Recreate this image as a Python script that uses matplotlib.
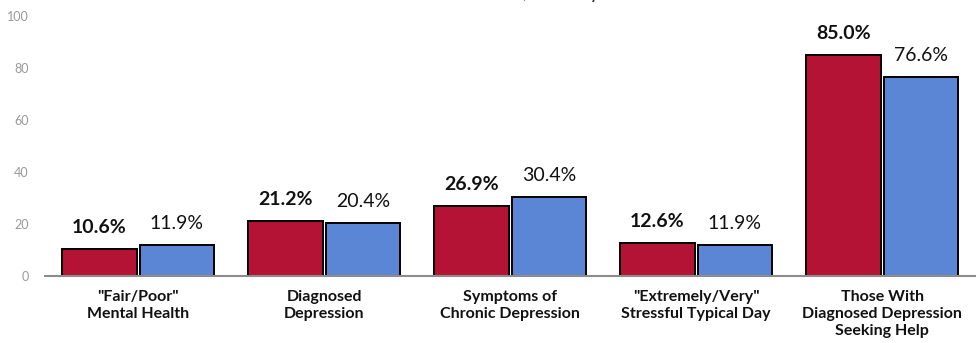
import matplotlib.pyplot as plt
import numpy as np

# Indicator values, county (red) vs state (blue)
categories = ['"Fair/Poor"\nMental Health', 'Diagnosed\nDepression', 'Symptoms of\nChronic Depression',
              '"Extremely/Very"\nStressful Typical Day', 'Those With\nDiagnosed Depression\nSeeking Help']
county = [10.6, 21.2, 26.9, 12.6, 85.0]
state = [11.9, 20.4, 30.4, 11.9, 76.6]
yticks = [0, 20, 40, 60, 80, 100]

plt.rcParams['font.family'] = ['Lato', 'DejaVu Sans']

fig = plt.figure(figsize=(9.8, 3.43), dpi=100)
ax = fig.add_axes([0.046, 0.195, 0.949, 0.758])

x = np.arange(len(categories))
w = 0.40
gap = 0.008
red_bars = ax.bar(x - w / 2 - gap, county, w, color='#B51336', edgecolor='black', linewidth=1.4)
blue_bars = ax.bar(x + w / 2 + gap, state, w, color='#5B86D5', edgecolor='black', linewidth=1.4)

for b, v in zip(red_bars, county):
    ax.text(b.get_x() + b.get_width() / 2, v + 5, f'{v:.1f}%', ha='center', va='bottom',
            fontsize=14, fontweight='bold', color='#111111')
for b, v in zip(blue_bars, state):
    ax.text(b.get_x() + b.get_width() / 2, v + 5, f'{v:.1f}%', ha='center', va='bottom',
            fontsize=14, color='#111111')

ax.set_xlim(-0.5, 4.5)
ax.set_ylim(0, 100)
ax.set_yticks(yticks)
ax.tick_params(axis='y', length=0, labelsize=9, labelcolor='#999999', pad=12)
ax.set_xticks(x)
ax.set_xticklabels(categories, fontsize=11.5, fontweight='bold', color='#111111', linespacing=1.25)
ax.tick_params(axis='x', length=0, pad=10)

for s in ['top', 'right', 'left']:
    ax.spines[s].set_visible(False)
ax.spines['bottom'].set_color('#8c8c8c')
ax.spines['bottom'].set_linewidth(1.5)

# title sits mostly above the canvas
fig.text(0.52, 1.0 + 1.5 / 343, 'Mental Health Indicators, County vs. California', ha='center',
         va='baseline', fontsize=15, color='#333333')

fig.savefig('out.png', dpi=100)
